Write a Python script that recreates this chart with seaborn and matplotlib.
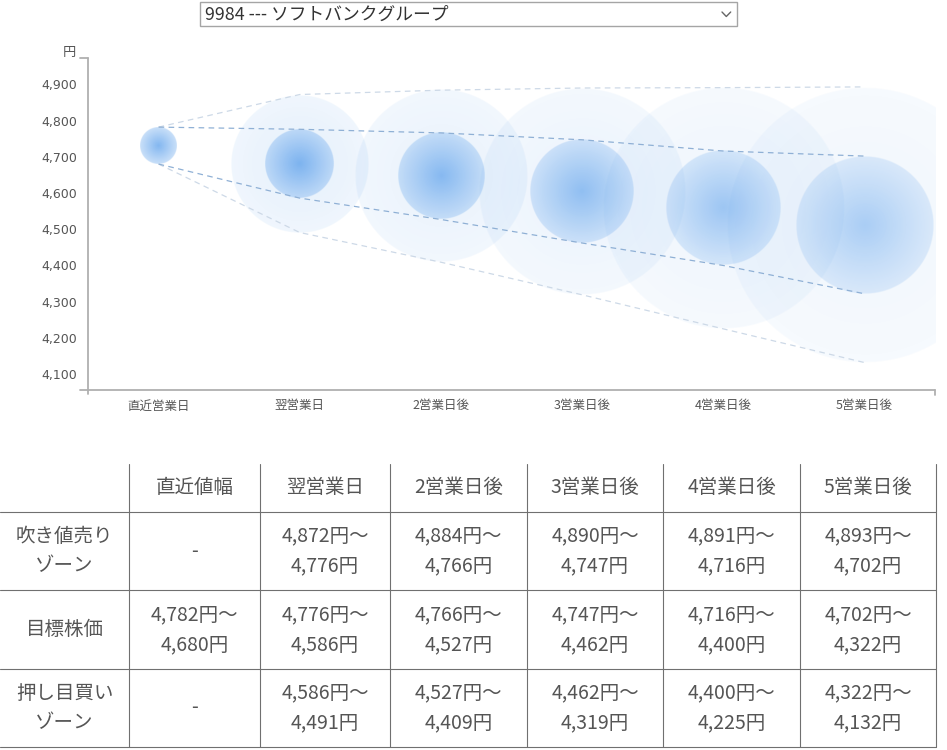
import numpy as np
import matplotlib
matplotlib.use("Agg")
import matplotlib.pyplot as plt
import seaborn as sns
from matplotlib.patches import Rectangle
from matplotlib.lines import Line2D

# ---------------- data ----------------
categories = ["直近営業日", "翌営業日", "2営業日後", "3営業日後", "4営業日後", "5営業日後"]
table_headers = ["直近値幅", "翌営業日", "2営業日後", "3営業日後", "4営業日後", "5営業日後"]
row_labels = ["吹き値売り\nゾーン", "目標株価", "押し目買い\nゾーン"]
sell_high = [None, 4872, 4884, 4890, 4891, 4893]
sell_low = [None, 4776, 4766, 4747, 4716, 4702]
target_high = [4782, 4776, 4766, 4747, 4716, 4702]
target_low = [4680, 4586, 4527, 4462, 4400, 4322]
buy_high = [None, 4586, 4527, 4462, 4400, 4322]
buy_low = [None, 4491, 4409, 4319, 4225, 4132]
y_ticks = [4100, 4200, 4300, 4400, 4500, 4600, 4700, 4800, 4900]
title_text = "9984 --- ソフトバンクグループ"
unit_label = "円"

# ---------------- style ----------------
sns.set_theme(style="white")
plt.rcParams['font.family'] = ['Noto Sans CJK JP', 'DejaVu Sans']
TXT = "#555555"
BLUE = (0.24, 0.56, 0.91)
inner_alpha = [(0.64, 0.28), (0.62, 0.26), (0.57, 0.23), (0.52, 0.20), (0.46, 0.17), (0.39, 0.14)]
outer_alpha = [None, (0.14, 0.08), (0.12, 0.07), (0.11, 0.06), (0.09, 0.05), (0.08, 0.045)]

W, H = 947, 750
fig = plt.figure(figsize=(W / 100, H / 100), dpi=100)
fig.patch.set_facecolor("white")


def fx(px):
    return px / W


def fy(py):
    return 1 - py / H


AX_L, AX_R, AX_T, AX_B = 88, 935, 58.3, 389.7
Y_MIN, Y_MAX = 4057, 4972
ax = fig.add_axes([fx(AX_L), fy(AX_B), (AX_R - AX_L) / W, (AX_B - AX_T) / H])
ax.set_facecolor("white")
n_cat = len(categories)
xpos = np.arange(n_cat) + 0.5

px_per_x = (AX_R - AX_L) / n_cat
px_per_y = (AX_B - AX_T) / (Y_MAX - Y_MIN)
ratio = px_per_y / px_per_x


def bubble(cx, lo, hi, a_c, a_e, z):
    r = (hi - lo) / 2.0
    rx = r * ratio
    n = 401
    g = np.linspace(-1, 1, n)
    X, Y = np.meshgrid(g, g)
    d = np.sqrt(X ** 2 + Y ** 2)
    alpha = a_c + (a_e - a_c) * np.clip(d, 0, 1)
    edge = np.clip((1.0 - d) * n / 3.0, 0, 1)
    img = np.zeros((n, n, 4))
    img[..., 0], img[..., 1], img[..., 2] = BLUE
    img[..., 3] = alpha * edge
    ax.imshow(img, extent=[cx - rx, cx + rx, lo, hi], origin="lower",
              aspect="auto", interpolation="bilinear", zorder=z)


for i in range(n_cat):
    if sell_high[i] is not None and buy_low[i] is not None:
        a_c, a_e = outer_alpha[i]
        bubble(xpos[i], buy_low[i], sell_high[i], a_c, a_e, 2 + 2 * i)
    a_c, a_e = inner_alpha[i]
    bubble(xpos[i], target_low[i], target_high[i], a_c, a_e, 3 + 2 * i)

outer_upper = [target_high[0]] + sell_high[1:]
outer_lower = [target_low[0]] + buy_low[1:]
for vals, col in [(outer_upper, "#cdd9e7"), (outer_lower, "#cdd9e7"),
                  (target_high, "#8fb0d5"), (target_low, "#8fb0d5")]:
    sns.lineplot(x=xpos, y=vals, ax=ax, color=col, lw=0.9,
                 linestyle=(0, (4.5, 3.5)), zorder=20, legend=False)

ax.set_xlim(0, n_cat)
ax.set_ylim(Y_MIN, Y_MAX)
ax.set_xticks(xpos)
ax.set_xticklabels(categories, fontsize=9, color=TXT)
ax.set_yticks(y_ticks)
ax.set_yticklabels([f"{v:,}" for v in y_ticks], fontsize=9, color=TXT,
                   family=["DejaVu Sans"])
ax.tick_params(axis="x", length=0, pad=7)
ax.tick_params(axis="y", length=0, pad=8)
for s in ax.spines.values():
    s.set_visible(False)
ax.grid(False)

AXC = "#b0b0b0"
fig.add_artist(Line2D([fx(AX_L), fx(AX_L)], [fy(AX_T), fy(AX_B + 4)], color=AXC, lw=1.3))
fig.add_artist(Line2D([fx(80), fx(AX_R)], [fy(AX_B), fy(AX_B)], color=AXC, lw=1.3))
fig.add_artist(Line2D([fx(80), fx(AX_L)], [fy(AX_T), fy(AX_T)], color=AXC, lw=1.3))
fig.add_artist(Line2D([fx(AX_R), fx(AX_R)], [fy(AX_B), fy(AX_B + 5)], color=AXC, lw=1.3))
fig.text(fx(69.5), fy(52.5), unit_label, fontsize=9.5, color=TXT, ha="center", va="center")

# ---------------- dropdown ----------------
fig.add_artist(Rectangle((fx(200), fy(26)), (736.5 - 200) / W, 24 / H,
                         transform=fig.transFigure, facecolor="white",
                         edgecolor="#a5a5a5", lw=1))
fig.text(fx(205), fy(15), title_text, fontsize=12.8, color="#333333", ha="left", va="center")
fig.add_artist(Line2D([fx(722), fx(726.3), fx(730.7)], [fy(12), fy(16.5), fy(12)],
                      color="#666666", lw=1))

# ---------------- table ----------------
col_edges = [0, 129, 260, 390, 527, 663, 800, 936]
row_edges = [464, 512, 590, 669, 747]
LC = "#707070"
for y in row_edges[1:]:
    fig.add_artist(Line2D([fx(0), fx(col_edges[-1])], [fy(y), fy(y)], color=LC, lw=0.8))
for x in col_edges[1:]:
    fig.add_artist(Line2D([fx(x), fx(x)], [fy(row_edges[0]), fy(row_edges[-1])], color=LC, lw=0.8))

col_centers = [(col_edges[k] + col_edges[k + 1]) / 2 for k in range(len(col_edges) - 1)]
TFS = 14
hdr_y = (row_edges[0] + row_edges[1]) / 2
for k, h in enumerate(table_headers):
    fig.text(fx(col_centers[k + 1]), fy(hdr_y), h, fontsize=TFS, color=TXT, ha="center", va="center")


def cell(hi, lo):
    if hi is None or lo is None:
        return "-"
    return f"{hi:,}円～\n{lo:,}円"


rows = [
    [cell(sell_high[i], sell_low[i]) for i in range(n_cat)],
    [cell(target_high[i], target_low[i]) for i in range(n_cat)],
    [cell(buy_high[i], buy_low[i]) for i in range(n_cat)],
]
for r in range(3):
    yc = (row_edges[r + 1] + row_edges[r + 2]) / 2
    fig.text(fx(col_centers[0]), fy(yc), row_labels[r], fontsize=TFS, color=TXT,
             ha="center", va="center", linespacing=1.55, multialignment="center")
    for k in range(n_cat):
        fig.text(fx(col_centers[k + 1]), fy(yc), rows[r][k], fontsize=TFS, color=TXT,
                 ha="center", va="center", linespacing=1.55, multialignment="center")

fig.savefig("out.png", dpi=100, facecolor="white")
